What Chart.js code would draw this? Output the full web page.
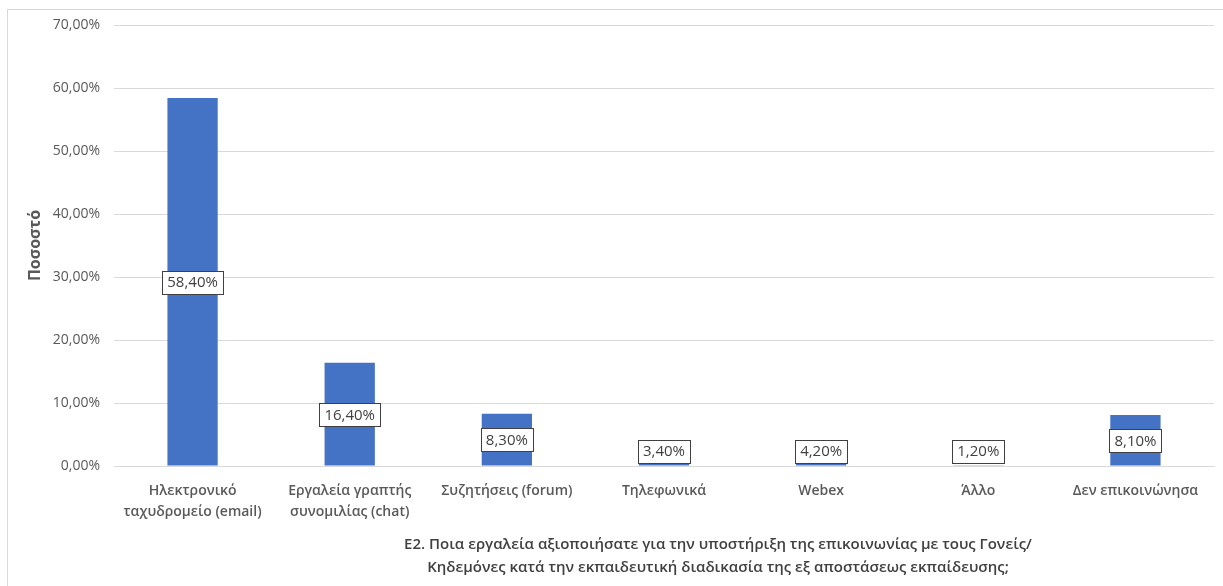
<!DOCTYPE html>
<html>
<head>
<meta charset="utf-8">
<script src="https://cdn.jsdelivr.net/npm/chart.js@4"></script>
<style>
  body { margin: 0; background: #fff; }
  #wrap { width: 1223px; height: 586px; position: relative; }
</style>
</head>
<body>
<div id="wrap"><canvas id="myChart" width="1223" height="586"></canvas></div>
<script>
var ctx = document.getElementById('myChart');

var categories = [
  ['Ηλεκτρονικό', 'ταχυδρομείο (email)'],
  ['Εργαλεία γραπτής', 'συνομιλίας (chat)'],
  'Συζητήσεις (forum)',
  'Τηλεφωνικά',
  'Webex',
  'Άλλο',
  'Δεν επικοινώνησα'
];
// bar heights as drawn in the picture (the three small bars are drawn far below their labels)
var barValues = [58.4, 16.4, 8.3, 0.34, 0.42, 0.12, 8.1];
// data label texts as printed on the picture
var labelTexts = ['58,40%', '16,40%', '8,30%', '3,40%', '4,20%', '1,20%', '8,10%'];
var titleLines = [
  'Ε2. Ποια εργαλεία αξιοποιήσατε για την υποστήριξη της επικοινωνίας με τους Γονείς/',
  'Κηδεμόνες κατά την εκπαιδευτική διαδικασία της εξ αποστάσεως εκπαίδευσης;'
];

var FONT = '"Open Sans", "Noto Sans", sans-serif';

var extras = {
  id: 'extras',
  beforeDraw: function (chart) {
    var c = chart.ctx;
    c.save();
    c.strokeStyle = '#d9d9d9';
    c.lineWidth = 1;
    c.strokeRect(7.5, 9.5, 1400, 800);
    c.restore();
  },
  afterDatasetsDraw: function (chart) {
    var c = chart.ctx;
    var meta = chart.getDatasetMeta(0);
    var zeroY = chart.scales.y.getPixelForValue(0);
    c.save();
    c.font = '15px ' + FONT;
    c.textAlign = 'center';
    c.textBaseline = 'middle';
    meta.data.forEach(function (bar, i) {
      var mid = (bar.y + zeroY) / 2;
      var cy = Math.min(mid, zeroY - 15);
      var txt = labelTexts[i];
      var w = Math.round(c.measureText(txt).width + 10);
      var h = 23;
      var x0 = Math.round(bar.x - w / 2) + 0.5;
      var y0 = Math.round(cy - h / 2) + 0.5;
      c.fillStyle = '#ffffff';
      c.fillRect(x0, y0, w, h);
      c.strokeStyle = '#404040';
      c.lineWidth = 1;
      c.strokeRect(x0, y0, w, h);
      c.fillStyle = '#404040';
      c.fillText(txt, bar.x, cy + 1);
    });
    c.restore();
  },
  afterDraw: function (chart) {
    var c = chart.ctx;
    c.save();
    c.font = '600 15px ' + FONT;
    c.fillStyle = '#404040';
    c.textAlign = 'center';
    c.textBaseline = 'middle';
    c.fillText(titleLines[0], 718, 545);
    c.fillText(titleLines[1], 718, 568);
    c.restore();
  }
};

var myChart = new Chart(ctx, {
  type: 'bar',
  data: {
    labels: categories,
    datasets: [{
      label: 'Ποσοστό',
      data: barValues,
      backgroundColor: '#4472C4',
      borderWidth: 0,
      barPercentage: 0.32,
      categoryPercentage: 1
    }]
  },
  options: {
    responsive: false,
    animation: false,
    layout: { padding: { top: 25, right: 9, left: 0, bottom: 0 } },
    plugins: {
      legend: { display: false },
      tooltip: { enabled: false }
    },
    scales: {
      x: {
        grid: { display: false, drawTicks: false },
        border: { display: true, color: '#d9d9d9' },
        ticks: {
          color: '#595959',
          font: { family: FONT, size: 14, weight: '600', lineHeight: 1.5 },
          maxRotation: 0,
          autoSkip: false,
          padding: 15
        },
        afterFit: function (scale) { scale.height = 120; }
      },
      y: {
        min: 0,
        max: 70,
        grid: { color: '#d9d9d9', drawTicks: false },
        border: { display: false },
        ticks: {
          stepSize: 10,
          color: '#595959',
          padding: 14,
          font: { family: FONT, size: 14 },
          callback: function (v) { return v.toFixed(2).replace('.', ',') + '%'; }
        },
        title: {
          display: true,
          text: 'Ποσοστό',
          color: '#595959',
          font: { family: FONT, size: 16, weight: 'bold', lineHeight: 1.2 },
          padding: { top: 26, bottom: 0 }
        },
        afterFit: function (scale) { scale.width = 114; }
      }
    }
  },
  plugins: [extras]
});
</script>
</body>
</html>
